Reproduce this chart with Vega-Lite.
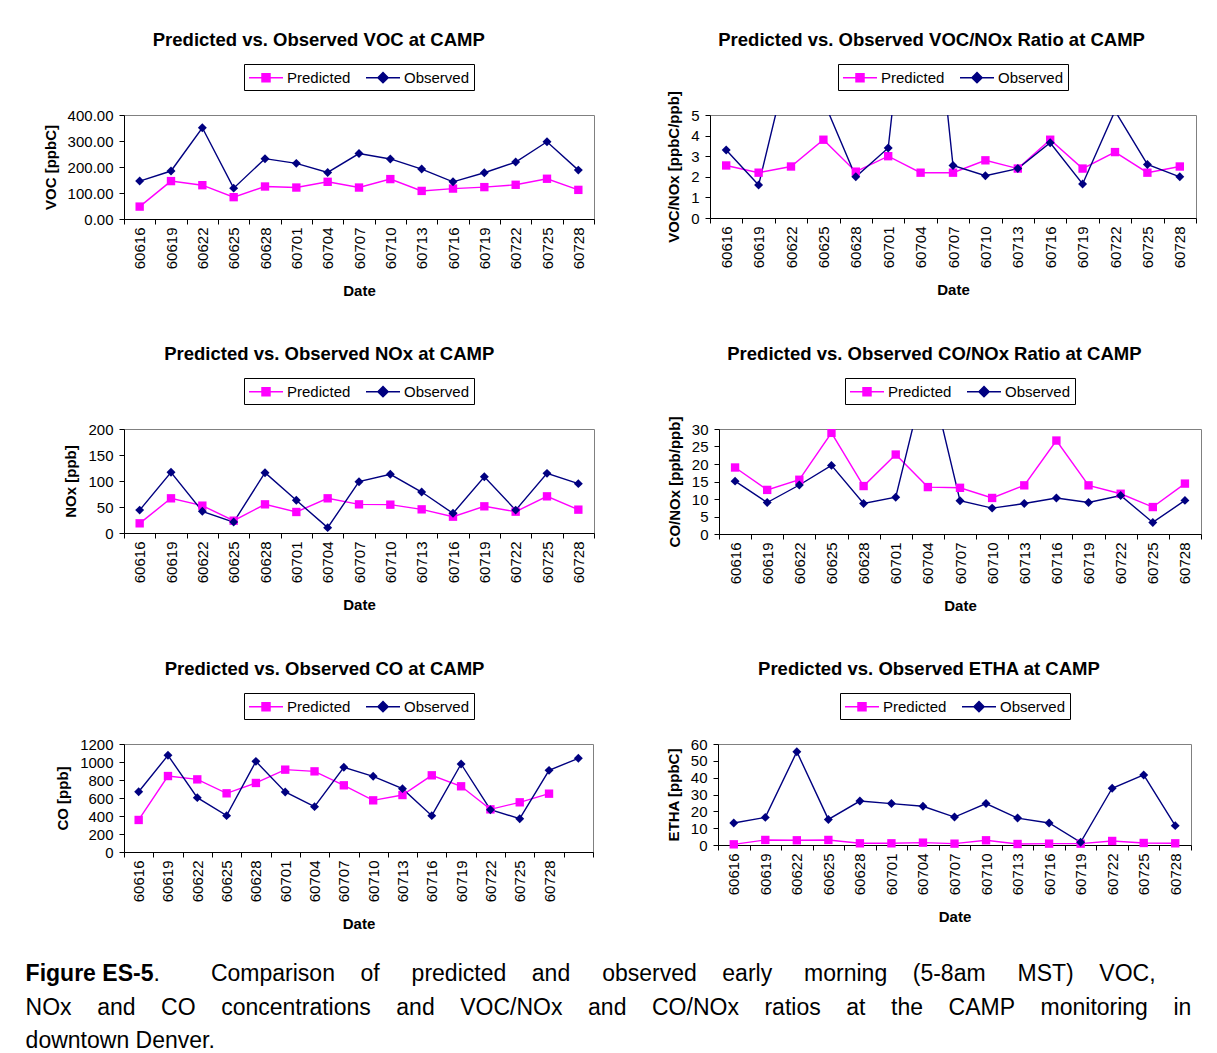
{
  "$schema": "https://vega.github.io/schema/vega-lite/v6.json",
  "padding": {"left": 25, "top": 30, "right": 0, "bottom": 0},
  "background": "white",
  "datasets": {
    "voc": [
      {"date": "60616", "Predicted": 47.7, "Observed": 145.8},
      {"date": "60619", "Predicted": 145.8, "Observed": 184.5},
      {"date": "60622", "Predicted": 130, "Observed": 351},
      {"date": "60625", "Predicted": 84, "Observed": 118.7},
      {"date": "60628", "Predicted": 125, "Observed": 232},
      {"date": "60701", "Predicted": 121, "Observed": 214},
      {"date": "60704", "Predicted": 143, "Observed": 179},
      {"date": "60707", "Predicted": 121, "Observed": 251.6},
      {"date": "60710", "Predicted": 153.5, "Observed": 231},
      {"date": "60713", "Predicted": 108, "Observed": 192},
      {"date": "60716", "Predicted": 117, "Observed": 143},
      {"date": "60719", "Predicted": 122.6, "Observed": 178},
      {"date": "60722", "Predicted": 131.6, "Observed": 219},
      {"date": "60725", "Predicted": 154.8, "Observed": 297},
      {"date": "60728", "Predicted": 112, "Observed": 188}
    ],
    "vocnox": [
      {"date": "60616", "Predicted": 2.55, "Observed": 3.3},
      {"date": "60619", "Predicted": 2.2, "Observed": 1.6},
      {"date": "60622", "Predicted": 2.5, "Observed": 8.1},
      {"date": "60625", "Predicted": 3.8, "Observed": 5.7},
      {"date": "60628", "Predicted": 2.25, "Observed": 2.0},
      {"date": "60701", "Predicted": 3.0, "Observed": 3.4},
      {"date": "60704", "Predicted": 2.2, "Observed": 17.6},
      {"date": "60707", "Predicted": 2.2, "Observed": 2.55},
      {"date": "60710", "Predicted": 2.8, "Observed": 2.05},
      {"date": "60713", "Predicted": 2.4, "Observed": 2.4},
      {"date": "60716", "Predicted": 3.8, "Observed": 3.65},
      {"date": "60719", "Predicted": 2.4, "Observed": 1.65},
      {"date": "60722", "Predicted": 3.2, "Observed": 5.2},
      {"date": "60725", "Predicted": 2.2, "Observed": 2.6},
      {"date": "60728", "Predicted": 2.5, "Observed": 2.0}
    ],
    "nox": [
      {"date": "60616", "Predicted": 18.6, "Observed": 44},
      {"date": "60619", "Predicted": 66.7, "Observed": 116.7},
      {"date": "60622", "Predicted": 52.6, "Observed": 41.7},
      {"date": "60625", "Predicted": 23.7, "Observed": 21},
      {"date": "60628", "Predicted": 55.1, "Observed": 116},
      {"date": "60701", "Predicted": 40.4, "Observed": 62.8},
      {"date": "60704", "Predicted": 66.7, "Observed": 10.3},
      {"date": "60707", "Predicted": 55.1, "Observed": 98.7},
      {"date": "60710", "Predicted": 54.5, "Observed": 112.8},
      {"date": "60713", "Predicted": 45.5, "Observed": 78.8},
      {"date": "60716", "Predicted": 31.4, "Observed": 37.8},
      {"date": "60719", "Predicted": 51.3, "Observed": 108.3},
      {"date": "60722", "Predicted": 41, "Observed": 44},
      {"date": "60725", "Predicted": 70.5, "Observed": 114.7},
      {"date": "60728", "Predicted": 44.9, "Observed": 94.9}
    ],
    "conox": [
      {"date": "60616", "Predicted": 19.0, "Observed": 15.1},
      {"date": "60619", "Predicted": 12.6, "Observed": 9.0},
      {"date": "60622", "Predicted": 15.5, "Observed": 14.0},
      {"date": "60625", "Predicted": 28.9, "Observed": 19.6},
      {"date": "60628", "Predicted": 13.7, "Observed": 8.7},
      {"date": "60701", "Predicted": 22.7, "Observed": 10.5},
      {"date": "60704", "Predicted": 13.4, "Observed": 48},
      {"date": "60707", "Predicted": 13.2, "Observed": 9.5},
      {"date": "60710", "Predicted": 10.3, "Observed": 7.4},
      {"date": "60713", "Predicted": 13.9, "Observed": 8.7},
      {"date": "60716", "Predicted": 26.7, "Observed": 10.3},
      {"date": "60719", "Predicted": 13.9, "Observed": 9.0},
      {"date": "60722", "Predicted": 11.5, "Observed": 11.0},
      {"date": "60725", "Predicted": 7.7, "Observed": 3.3},
      {"date": "60728", "Predicted": 14.4, "Observed": 9.6}
    ],
    "co": [
      {"date": "60616", "Predicted": 356, "Observed": 670},
      {"date": "60619", "Predicted": 844, "Observed": 1074},
      {"date": "60622", "Predicted": 807, "Observed": 604},
      {"date": "60625", "Predicted": 652, "Observed": 404},
      {"date": "60628", "Predicted": 767, "Observed": 1007},
      {"date": "60701", "Predicted": 915, "Observed": 667},
      {"date": "60704", "Predicted": 896, "Observed": 504},
      {"date": "60707", "Predicted": 741, "Observed": 941},
      {"date": "60710", "Predicted": 574, "Observed": 841},
      {"date": "60713", "Predicted": 633, "Observed": 704},
      {"date": "60716", "Predicted": 852, "Observed": 404},
      {"date": "60719", "Predicted": 730, "Observed": 978},
      {"date": "60722", "Predicted": 474, "Observed": 470},
      {"date": "60725", "Predicted": 552, "Observed": 370},
      {"date": "60728", "Predicted": 648, "Observed": 907},
      {"date": " ", "Observed": 1041}
    ],
    "etha": [
      {"date": "60616", "Predicted": 0.4, "Observed": 13.1},
      {"date": "60619", "Predicted": 3, "Observed": 16.4},
      {"date": "60622", "Predicted": 2.8, "Observed": 55.4},
      {"date": "60625", "Predicted": 3, "Observed": 15.2},
      {"date": "60628", "Predicted": 1, "Observed": 26.1},
      {"date": "60701", "Predicted": 1, "Observed": 24.6},
      {"date": "60704", "Predicted": 1.4, "Observed": 23},
      {"date": "60707", "Predicted": 0.8, "Observed": 16.6},
      {"date": "60710", "Predicted": 2.8, "Observed": 24.6},
      {"date": "60713", "Predicted": 0.6, "Observed": 16},
      {"date": "60716", "Predicted": 0.8, "Observed": 13.1},
      {"date": "60719", "Predicted": 0.8, "Observed": 1.6},
      {"date": "60722", "Predicted": 2.4, "Observed": 33.7},
      {"date": "60725", "Predicted": 1.2, "Observed": 41.6},
      {"date": "60728", "Predicted": 1, "Observed": 11.5}
    ]
  },
  "title": {
    "text": [
      "\u200b\u00a0\u00a0\u00a0\u00a0\u00a0\u00a0\u00a0\u00a0\u00a0\u00a0\u00a0\u00a0\u00a0\u00a0\u00a0\u00a0\u00a0\u00a0\u00a0\u00a0.\u00a0\u00a0\u00a0\u00a0\u00a0\u00a0\u00a0\u00a0Comparison\u00a0\u00a0\u00a0\u00a0of\u00a0\u00a0\u00a0\u00a0\u00a0predicted\u00a0\u00a0\u00a0\u00a0and\u00a0\u00a0\u00a0\u00a0\u00a0observed\u00a0\u00a0\u00a0\u00a0early\u00a0\u00a0\u00a0\u00a0\u00a0morning\u00a0\u00a0\u00a0\u00a0(5-8am\u00a0\u00a0\u00a0\u00a0\u00a0MST)\u00a0\u00a0\u00a0\u00a0VOC,",
      "NOx\u00a0\u00a0\u00a0\u00a0and\u00a0\u00a0\u00a0\u00a0CO\u00a0\u00a0\u00a0\u00a0concentrations\u00a0\u00a0\u00a0\u00a0and\u00a0\u00a0\u00a0\u00a0VOC/NOx\u00a0\u00a0\u00a0\u00a0and\u00a0\u00a0\u00a0\u00a0CO/NOx\u00a0\u00a0\u00a0\u00a0ratios\u00a0\u00a0\u00a0\u00a0at\u00a0\u00a0\u00a0\u00a0the\u00a0\u00a0\u00a0\u00a0CAMP\u00a0\u00a0\u00a0\u00a0monitoring\u00a0\u00a0\u00a0\u00a0in",
      "downtown Denver."
    ],
    "orient": "bottom", "anchor": "start", "frame": "bounds",
    "fontSize": 23, "fontWeight": "normal", "lineHeight": 33.5, "offset": 0, "dy": -23
  },
  "resolve": {"scale": {"color": "independent"}, "legend": {"color": "independent"}},
  "vconcat": [
    {
      "title": {"text": "Figure ES-5", "orient": "bottom", "anchor": "start", "frame": "bounds", "fontSize": 23, "fontWeight": "bold", "dx": -17, "offset": 31},
      "spacing": 44,
      "resolve": {"scale": {"color": "independent"}, "legend": {"color": "independent"}},
      "vconcat": [
        {
          "spacing": 71,
          "resolve": {"scale": {"color": "independent"}, "legend": {"color": "independent"}},
          "hconcat": [
            {
              "title": "Predicted vs. Observed VOC at CAMP",
              "width": 470, "height": 104,
              "data": {"name": "voc"},
              "transform": [{"fold": ["Predicted", "Observed"], "as": ["series", "value"]}],
              "encoding": {
                "x": {"field": "date", "type": "ordinal", "sort": null, "scale": {"type": "band", "paddingInner": 0, "paddingOuter": 0}, "axis": {"title": "Date", "tickBand": "extent"}},
                "y": {"field": "value", "type": "quantitative", "scale": {"domain": [0, 400], "nice": false}, "axis": {"title": "VOC [ppbC]", "values": [0, 100, 200, 300, 400], "format": ".2f"}},
                "color": {"field": "series", "type": "nominal", "scale": {"domain": ["Predicted", "Observed"], "range": ["#FF00FF", "#000080"]},
                  "legend": {"title": null, "encode": {"symbols": {"update": {
                    "shape": [{"test": "datum.value === 'Predicted'", "value": "M-1,0L3,0M0.53,-0.47L1.47,-0.47L1.47,0.47L0.53,0.47Z"}, {"value": "M-1,0L3,0M1,-0.6L1.6,0L1,0.6L0.4,0Z"}],
                    "stroke": [{"test": "datum.value === 'Predicted'", "value": "#FF00FF"}, {"value": "#000080"}],
                    "fill": [{"test": "datum.value === 'Predicted'", "value": "#FF00FF"}, {"value": "#000080"}],
                    "strokeWidth": {"value": 1.5}, "opacity": {"value": 1}}}}}}
              },
              "layer": [
                {"mark": {"type": "line", "strokeWidth": 1.4}},
                {"transform": [{"filter": "datum.series === 'Predicted'"}], "mark": {"type": "point", "shape": "square", "filled": true, "size": 70, "opacity": 1}},
                {"transform": [{"filter": "datum.series === 'Observed'"}], "mark": {"type": "point", "shape": "diamond", "filled": true, "size": 80, "opacity": 1}}
              ]
            },
            {
              "title": "Predicted vs. Observed VOC/NOx Ratio at CAMP",
              "width": 486, "height": 103,
              "data": {"name": "vocnox"},
              "transform": [{"fold": ["Predicted", "Observed"], "as": ["series", "value"]}],
              "encoding": {
                "x": {"field": "date", "type": "ordinal", "sort": null, "scale": {"type": "band", "paddingInner": 0, "paddingOuter": 0}, "axis": {"title": "Date", "tickBand": "extent"}},
                "y": {"field": "value", "type": "quantitative", "scale": {"domain": [0, 5], "nice": false}, "axis": {"title": "VOC/NOx [ppbC/ppb]", "values": [0, 1, 2, 3, 4, 5]}},
                "color": {"field": "series", "type": "nominal", "scale": {"domain": ["Predicted", "Observed"], "range": ["#FF00FF", "#000080"]},
                  "legend": {"title": null, "encode": {"symbols": {"update": {
                    "shape": [{"test": "datum.value === 'Predicted'", "value": "M-1,0L3,0M0.53,-0.47L1.47,-0.47L1.47,0.47L0.53,0.47Z"}, {"value": "M-1,0L3,0M1,-0.6L1.6,0L1,0.6L0.4,0Z"}],
                    "stroke": [{"test": "datum.value === 'Predicted'", "value": "#FF00FF"}, {"value": "#000080"}],
                    "fill": [{"test": "datum.value === 'Predicted'", "value": "#FF00FF"}, {"value": "#000080"}],
                    "strokeWidth": {"value": 1.5}, "opacity": {"value": 1}}}}}}
              },
              "layer": [
                {"mark": {"type": "line", "strokeWidth": 1.4, "clip": true}},
                {"transform": [{"filter": "datum.series === 'Predicted'"}], "mark": {"type": "point", "shape": "square", "filled": true, "size": 70, "opacity": 1, "clip": true}},
                {"transform": [{"filter": "datum.series === 'Observed'"}], "mark": {"type": "point", "shape": "diamond", "filled": true, "size": 80, "opacity": 1, "clip": true}}
              ]
            }
          ]
        },
        {
          "spacing": 71,
          "resolve": {"scale": {"color": "independent"}, "legend": {"color": "independent"}},
          "hconcat": [
            {
              "title": "Predicted vs. Observed NOx at CAMP",
              "width": 470, "height": 104,
              "data": {"name": "nox"},
              "transform": [{"fold": ["Predicted", "Observed"], "as": ["series", "value"]}],
              "encoding": {
                "x": {"field": "date", "type": "ordinal", "sort": null, "scale": {"type": "band", "paddingInner": 0, "paddingOuter": 0}, "axis": {"title": "Date", "tickBand": "extent"}},
                "y": {"field": "value", "type": "quantitative", "scale": {"domain": [0, 200], "nice": false}, "axis": {"title": "NOx [ppb]", "values": [0, 50, 100, 150, 200]}},
                "color": {"field": "series", "type": "nominal", "scale": {"domain": ["Predicted", "Observed"], "range": ["#FF00FF", "#000080"]},
                  "legend": {"title": null, "encode": {"symbols": {"update": {
                    "shape": [{"test": "datum.value === 'Predicted'", "value": "M-1,0L3,0M0.53,-0.47L1.47,-0.47L1.47,0.47L0.53,0.47Z"}, {"value": "M-1,0L3,0M1,-0.6L1.6,0L1,0.6L0.4,0Z"}],
                    "stroke": [{"test": "datum.value === 'Predicted'", "value": "#FF00FF"}, {"value": "#000080"}],
                    "fill": [{"test": "datum.value === 'Predicted'", "value": "#FF00FF"}, {"value": "#000080"}],
                    "strokeWidth": {"value": 1.5}, "opacity": {"value": 1}}}}}}
              },
              "layer": [
                {"mark": {"type": "line", "strokeWidth": 1.4}},
                {"transform": [{"filter": "datum.series === 'Predicted'"}], "mark": {"type": "point", "shape": "square", "filled": true, "size": 70, "opacity": 1}},
                {"transform": [{"filter": "datum.series === 'Observed'"}], "mark": {"type": "point", "shape": "diamond", "filled": true, "size": 80, "opacity": 1}}
              ]
            },
            {
              "title": "Predicted vs. Observed CO/NOx Ratio at CAMP",
              "width": 482, "height": 105,
              "data": {"name": "conox"},
              "transform": [{"fold": ["Predicted", "Observed"], "as": ["series", "value"]}],
              "encoding": {
                "x": {"field": "date", "type": "ordinal", "sort": null, "scale": {"type": "band", "paddingInner": 0, "paddingOuter": 0}, "axis": {"title": "Date", "tickBand": "extent"}},
                "y": {"field": "value", "type": "quantitative", "scale": {"domain": [0, 30], "nice": false}, "axis": {"title": "CO/NOx [ppb/ppb]", "values": [0, 5, 10, 15, 20, 25, 30]}},
                "color": {"field": "series", "type": "nominal", "scale": {"domain": ["Predicted", "Observed"], "range": ["#FF00FF", "#000080"]},
                  "legend": {"title": null, "encode": {"symbols": {"update": {
                    "shape": [{"test": "datum.value === 'Predicted'", "value": "M-1,0L3,0M0.53,-0.47L1.47,-0.47L1.47,0.47L0.53,0.47Z"}, {"value": "M-1,0L3,0M1,-0.6L1.6,0L1,0.6L0.4,0Z"}],
                    "stroke": [{"test": "datum.value === 'Predicted'", "value": "#FF00FF"}, {"value": "#000080"}],
                    "fill": [{"test": "datum.value === 'Predicted'", "value": "#FF00FF"}, {"value": "#000080"}],
                    "strokeWidth": {"value": 1.5}, "opacity": {"value": 1}}}}}}
              },
              "layer": [
                {"mark": {"type": "line", "strokeWidth": 1.4, "clip": true}},
                {"transform": [{"filter": "datum.series === 'Predicted'"}], "mark": {"type": "point", "shape": "square", "filled": true, "size": 70, "opacity": 1, "clip": true}},
                {"transform": [{"filter": "datum.series === 'Observed'"}], "mark": {"type": "point", "shape": "diamond", "filled": true, "size": 80, "opacity": 1, "clip": true}}
              ]
            }
          ]
        },
        {
          "spacing": 71,
          "resolve": {"scale": {"color": "independent"}, "legend": {"color": "independent"}},
          "hconcat": [
            {
              "title": "Predicted vs. Observed CO at CAMP",
              "width": 469, "height": 108,
              "data": {"name": "co"},
              "transform": [{"fold": ["Predicted", "Observed"], "as": ["series", "value"]}],
              "encoding": {
                "x": {"field": "date", "type": "ordinal", "sort": null, "scale": {"type": "band", "paddingInner": 0, "paddingOuter": 0}, "axis": {"title": "Date", "tickBand": "extent"}},
                "y": {"field": "value", "type": "quantitative", "scale": {"domain": [0, 1200], "nice": false}, "axis": {"title": "CO [ppb]", "values": [0, 200, 400, 600, 800, 1000, 1200], "format": "d"}},
                "color": {"field": "series", "type": "nominal", "scale": {"domain": ["Predicted", "Observed"], "range": ["#FF00FF", "#000080"]},
                  "legend": {"title": null, "encode": {"symbols": {"update": {
                    "shape": [{"test": "datum.value === 'Predicted'", "value": "M-1,0L3,0M0.53,-0.47L1.47,-0.47L1.47,0.47L0.53,0.47Z"}, {"value": "M-1,0L3,0M1,-0.6L1.6,0L1,0.6L0.4,0Z"}],
                    "stroke": [{"test": "datum.value === 'Predicted'", "value": "#FF00FF"}, {"value": "#000080"}],
                    "fill": [{"test": "datum.value === 'Predicted'", "value": "#FF00FF"}, {"value": "#000080"}],
                    "strokeWidth": {"value": 1.5}, "opacity": {"value": 1}}}}}}
              },
              "layer": [
                {"mark": {"type": "line", "strokeWidth": 1.4}},
                {"transform": [{"filter": "datum.series === 'Predicted'"}], "mark": {"type": "point", "shape": "square", "filled": true, "size": 70, "opacity": 1}},
                {"transform": [{"filter": "datum.series === 'Observed'"}], "mark": {"type": "point", "shape": "diamond", "filled": true, "size": 80, "opacity": 1}}
              ]
            },
            {
              "title": "Predicted vs. Observed ETHA at CAMP",
              "width": 473, "height": 101,
              "data": {"name": "etha"},
              "transform": [{"fold": ["Predicted", "Observed"], "as": ["series", "value"]}],
              "encoding": {
                "x": {"field": "date", "type": "ordinal", "sort": null, "scale": {"type": "band", "paddingInner": 0, "paddingOuter": 0}, "axis": {"title": "Date", "tickBand": "extent"}},
                "y": {"field": "value", "type": "quantitative", "scale": {"domain": [0, 60], "nice": false}, "axis": {"title": "ETHA [ppbC]", "values": [0, 10, 20, 30, 40, 50, 60]}},
                "color": {"field": "series", "type": "nominal", "scale": {"domain": ["Predicted", "Observed"], "range": ["#FF00FF", "#000080"]},
                  "legend": {"title": null, "encode": {"symbols": {"update": {
                    "shape": [{"test": "datum.value === 'Predicted'", "value": "M-1,0L3,0M0.53,-0.47L1.47,-0.47L1.47,0.47L0.53,0.47Z"}, {"value": "M-1,0L3,0M1,-0.6L1.6,0L1,0.6L0.4,0Z"}],
                    "stroke": [{"test": "datum.value === 'Predicted'", "value": "#FF00FF"}, {"value": "#000080"}],
                    "fill": [{"test": "datum.value === 'Predicted'", "value": "#FF00FF"}, {"value": "#000080"}],
                    "strokeWidth": {"value": 1.5}, "opacity": {"value": 1}}}}}}
              },
              "layer": [
                {"mark": {"type": "line", "strokeWidth": 1.4}},
                {"transform": [{"filter": "datum.series === 'Predicted'"}], "mark": {"type": "point", "shape": "square", "filled": true, "size": 70, "opacity": 1}},
                {"transform": [{"filter": "datum.series === 'Observed'"}], "mark": {"type": "point", "shape": "diamond", "filled": true, "size": 80, "opacity": 1}}
              ]
            }
          ]
        }
      ]
    }
  ],
  "config": {
    "font": "Liberation Sans",
    "view": {"stroke": "#808080", "strokeWidth": 1},
    "axis": {"labelFont": "Liberation Sans", "labelFontSize": 15, "labelColor": "#000000", "titleFont": "Liberation Sans", "titleFontSize": 15, "titleFontWeight": "bold", "titleColor": "#000000", "domainColor": "#000000", "tickColor": "#000000", "tickSize": 5, "grid": false},
    "axisY": {"labelPadding": 6, "titlePadding": 9},
    "axisX": {"labelPadding": 3, "titlePadding": 15, "labelAngle": 270},
    "legend": {"orient": "top", "direction": "horizontal", "strokeColor": "#000000", "padding": 4, "labelFont": "Liberation Sans", "labelFontSize": 15, "labelColor": "#000000", "offset": 25, "columnPadding": 12, "labelOffset": 20, "symbolSize": 289, "layout": {"top": {"anchor": "middle"}}},
    "title": {"font": "Liberation Sans", "fontSize": 18.5, "fontWeight": "bold", "color": "#000000", "frame": "bounds", "offset": 14}
  }
}
